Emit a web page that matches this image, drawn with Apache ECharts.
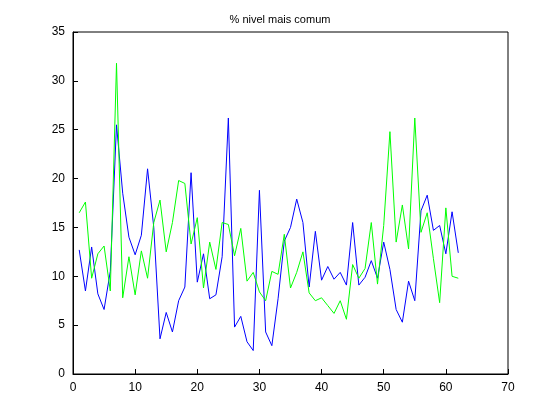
<!DOCTYPE html>
<html>
<head>
<meta charset="utf-8">
<script src="https://cdn.jsdelivr.net/npm/echarts@6/dist/echarts.min.js"></script>
<style>body{margin:0;background:#fff}#c{width:560px;height:420px}</style>
</head>
<body>
<div id="c"></div>
<script>
var blueVals = [12.7,8.5,13,8.2,6.6,10.5,25.5,18.5,14,12.2,14.2,21,15,3.6,6.3,4.3,7.5,8.9,20.6,9.4,
	12.3,7.7,8.1,12,26.2,4.8,5.9,3.3,2.4,18.8,4.3,2.9,7.7,13.6,15,17.9,15.5,8.9,14.6,9.6,
	11,9.7,10.4,9.1,15.5,9.1,9.9,11.6,9.8,13.5,10.7,6.6,5.3,9.5,7.5,16.7,18.3,14.7,15.2,
	12.3,16.6,12.4];
var greenVals = [16.5,17.6,9.8,12.3,13.1,8.5,31.8,7.8,12,8.1,12.6,9.8,15.5,17.8,12.5,15.5,19.8,19.5,13.3,16,
	8.8,13.5,10.7,15.5,15.3,12.1,14.9,9.5,10.4,8.4,7.5,10.5,10.2,14.3,8.8,10.4,12.5,8.3,7.5,7.8,
	7,6.2,7.5,5.6,11.2,9.8,10.8,15.5,9.2,15.2,24.8,13.5,17.3,12.8,26.2,14.5,16.5,11.8,7.3,17,
	10,9.8];
var xTicks = [0,10,20,30,40,50,60,70];
var yTicks = [0,5,10,15,20,25,30,35];

function pairs(v){ return v.map(function(y,i){ return [i+1,y]; }); }

var chart = echarts.init(document.getElementById('c'));
var axisCommon = {
	axisLine:{lineStyle:{color:'#000'}},
	axisTick:{inside:true,length:5,lineStyle:{color:'#000'}},
	axisLabel:{color:'#000',fontFamily:'Liberation Sans',fontSize:12},
	splitLine:{show:false}
};
chart.setOption({
	animation:false,
	title:{text:'% nivel mais comum',left:'center',top:9,
		textStyle:{fontFamily:'Liberation Sans',fontSize:11,fontWeight:'normal',color:'#000'}},
	grid:{left:73,top:32,width:435,height:342,show:true,borderColor:'#000',borderWidth:1},
	xAxis:Object.assign({type:'value',min:0,max:70,interval:10},axisCommon),
	yAxis:Object.assign({type:'value',min:0,max:35,interval:5},axisCommon),
	series:[
		{type:'line',data:pairs(blueVals),symbol:'none',lineStyle:{color:'#0000ff',width:1}},
		{type:'line',data:pairs(greenVals),symbol:'none',lineStyle:{color:'#00ff00',width:1}}
	]
});
</script>
</body>
</html>
